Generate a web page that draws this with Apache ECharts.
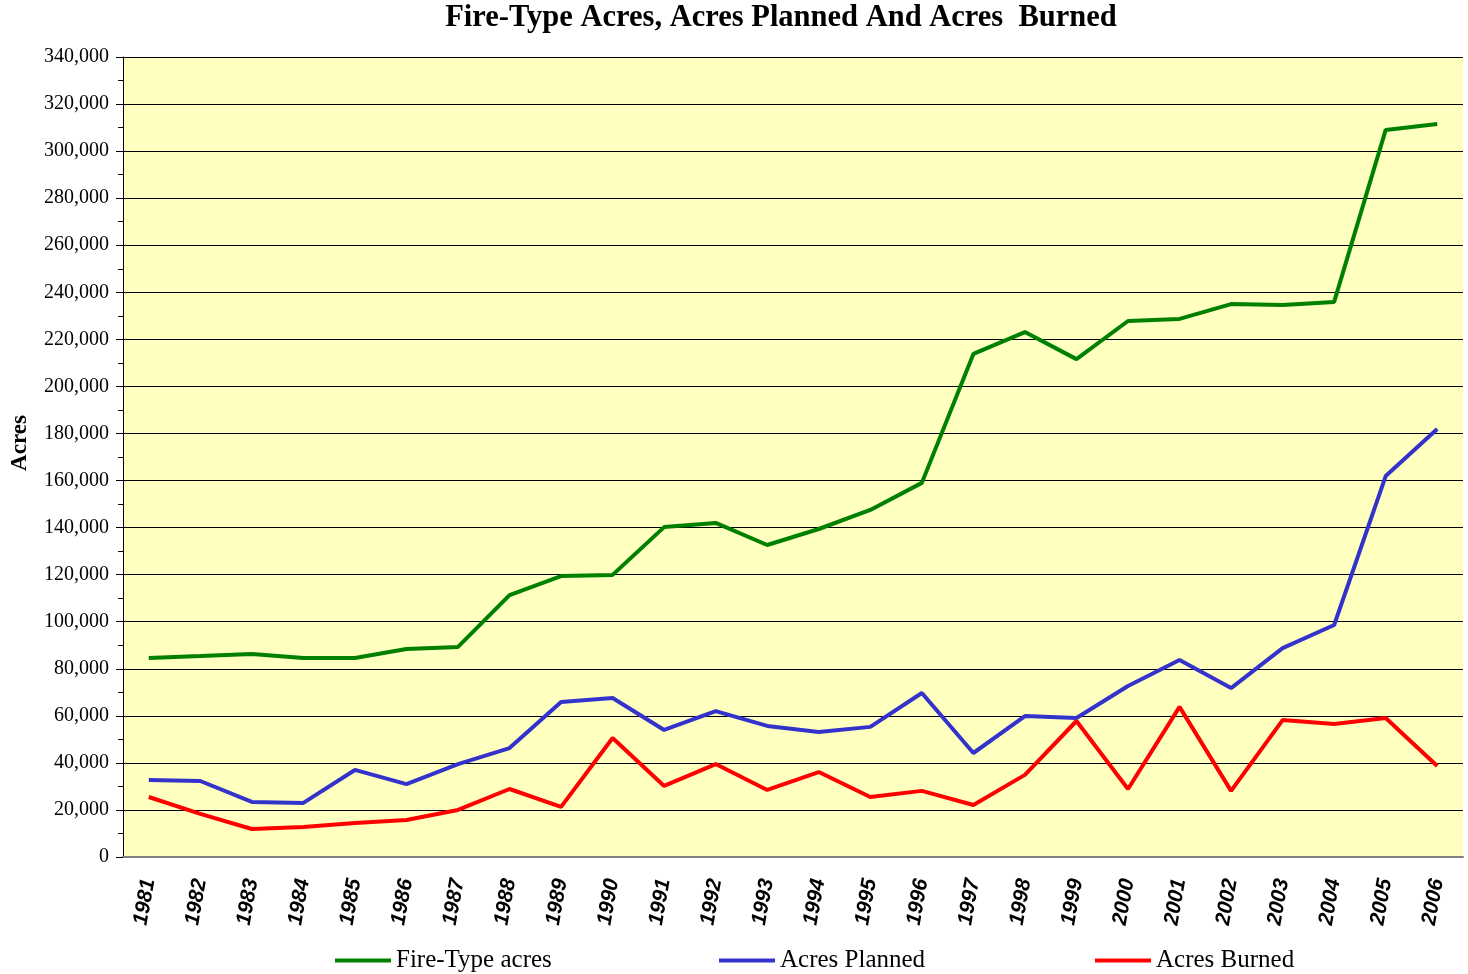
<!DOCTYPE html>
<html>
<head>
<meta charset="utf-8">
<script src="https://cdn.jsdelivr.net/npm/echarts@6/dist/echarts.min.js"></script>
<style>html,body{margin:0;padding:0;background:#fff}#c{width:1468px;height:974px}</style>
</head>
<body>
<div id="c"></div>
<script>
const years = ['1981','1982','1983','1984','1985','1986','1987','1988','1989','1990','1991','1992','1993','1994','1995','1996','1997','1998','1999','2000','2001','2002','2003','2004','2005','2006'];
const fireTypeAcres = [84600,85400,86300,84600,84600,88400,89300,111300,119400,119900,140200,142000,132600,139400,147500,159000,213800,223100,211600,227800,228700,235000,234600,235900,309000,311500];
const acresPlanned = [32700,32300,23400,23000,37000,31000,39500,46300,65900,67600,54000,62000,55700,53100,55300,69700,44200,59900,59100,72700,83700,71800,88800,98600,161900,181900];
const acresBurned = [25500,18300,11900,12800,14500,15700,20000,28900,21300,50600,30200,39500,28500,36100,25500,28100,22100,34900,57800,28900,63800,28100,58200,56500,59100,38700];
const seriesNames = ['Fire-Type acres','Acres Planned','Acres Burned'];
const colors = ['#008000','#3333CC','#FF0000'];

const chart = echarts.init(document.getElementById('c'));
const legendBase = {
  top: 948, padding: 0, itemWidth: 56, itemHeight: 14, itemGap: 4,
  textStyle: {fontFamily: 'Liberation Serif', fontSize: 25, color: '#000'},
  icon: 'path://M0,5 L56,5 L56,9 L0,9 Z'
};
chart.setOption({
  backgroundColor: '#fff',
  animation: false,
  title: {
    text: 'Fire-Type Acres, Acres Planned And Acres  Burned',
    left: 781, top: 3, textAlign: 'center', padding: 0,
    textStyle: {fontFamily: 'Liberation Serif', fontWeight: 'bold', fontSize: 30.5, color: '#000'}
  },
  legend: [
    Object.assign({}, legendBase, {left: 335, data: [seriesNames[0]]}),
    Object.assign({}, legendBase, {left: 719, data: [seriesNames[1]]}),
    Object.assign({}, legendBase, {left: 1095, data: [seriesNames[2]]})
  ],
  graphic: [{
    type: 'text', x: 20, y: 443, rotation: Math.PI / 2,
    style: {text: 'Acres', align: 'center', verticalAlign: 'middle',
      font: 'bold 23px "Liberation Serif"', fill: '#000'}
  }],
  grid: {left: 123, right: 5, top: 57, bottom: 117, containLabel: false, outerBoundsMode: 'none',
    show: true, backgroundColor: '#FFFFC0', borderWidth: 0},
  xAxis: {
    type: 'category', data: years, boundaryGap: true,
    axisLine: {lineStyle: {color: '#808080', width: 2}},
    axisTick: {inside: true, length: 7, lineStyle: {color: '#333'}},
    axisLabel: {rotate: 80, margin: 22, fontFamily: 'Liberation Sans', fontWeight: 'bold', fontStyle: 'italic', fontSize: 21, color: '#000'}
  },
  yAxis: {
    type: 'value', min: 0, max: 340000, interval: 20000,
    axisLine: {show: true, lineStyle: {color: '#000', width: 1}},
    axisTick: {show: true, length: 7, lineStyle: {color: '#000'}},
    minorTick: {show: true, splitNumber: 2, length: 5, lineStyle: {color: '#000'}},
    splitLine: {lineStyle: {color: '#000', width: 1}},
    axisLabel: {margin: 14, fontFamily: 'Liberation Serif', fontSize: 20, color: '#000',
      formatter: v => v.toLocaleString('en-US')}
  },
  series: [
    {name: seriesNames[0], type: 'line', data: fireTypeAcres, symbol: 'none', lineStyle: {width: 4, color: colors[0]}, itemStyle: {color: colors[0]}},
    {name: seriesNames[1], type: 'line', data: acresPlanned, symbol: 'none', lineStyle: {width: 4, color: colors[1]}, itemStyle: {color: colors[1]}},
    {name: seriesNames[2], type: 'line', data: acresBurned, symbol: 'none', lineStyle: {width: 4, color: colors[2]}, itemStyle: {color: colors[2]}}
  ]
});
</script>
</body>
</html>
